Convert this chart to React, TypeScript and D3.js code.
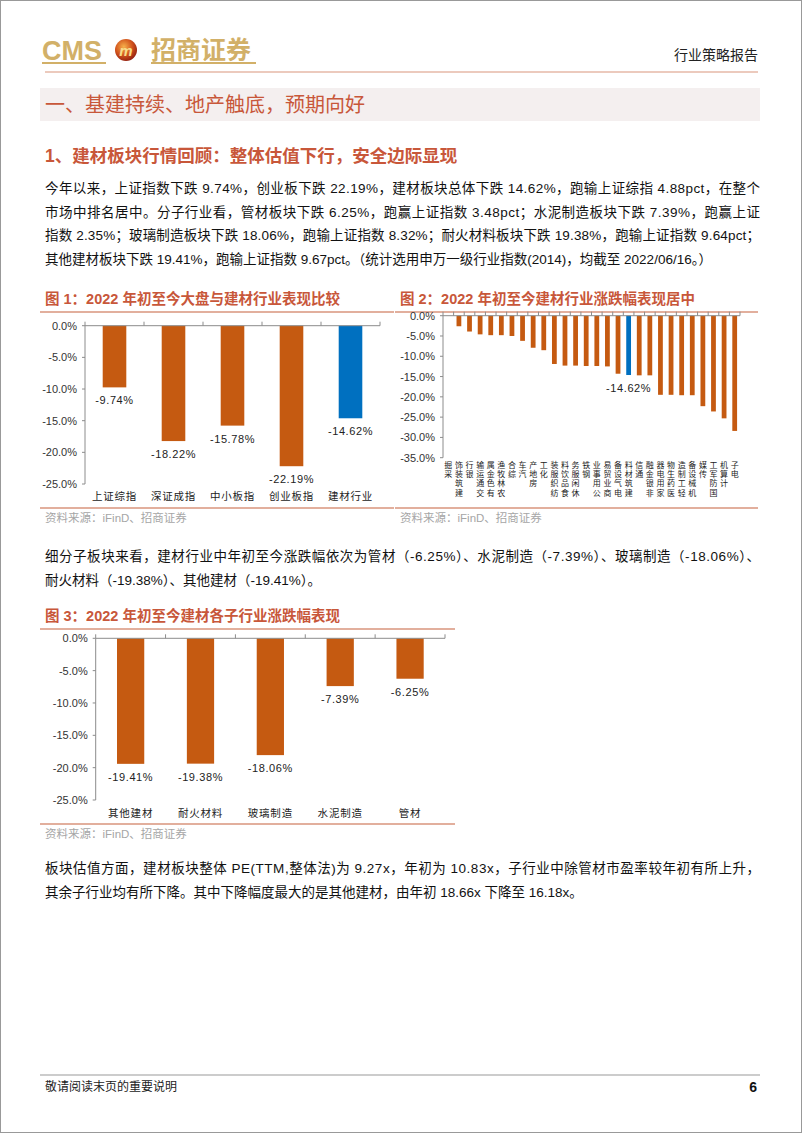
import * as d3 from 'd3';

// 图1 数据
const fig1Cats = ['上证综指', '深证成指', '中小板指', '创业板指', '建材行业'];
const fig1Vals = [-9.74, -18.22, -15.78, -22.19, -14.62];
const fig1Ticks = [0, -5, -10, -15, -20, -25];

// 图2 数据（申万一级行业）
const fig2Cats = [
  '采掘', '建筑装饰', '银行', '交通运输', '有色金属', '农林牧渔', '综合', '汽车', '房地产', '化工',
  '纺织服装', '食品饮料', '休闲服务', '钢铁', '公用事业', '商业贸易', '电气设备', '建筑材料', '通信',
  '非银金融', '家用电器', '医药生物', '轻工制造', '机械设备', '传媒', '国防军工', '计算机', '电子',
];
const fig2Vals = [
  40.5, -2.6, -3.9, -4.6, -4.8, -4.8, -5.0, -6.2, -7.9, -8.5,
  -11.9, -12.3, -12.3, -12.4, -12.4, -12.5, -14.3, -14.62, -14.7,
  -14.7, -19.5, -19.5, -19.6, -19.6, -22.3, -23.6, -25.3, -28.4,
];
const fig2Ticks = [0, -5, -10, -15, -20, -25, -30, -35];

// 图3 数据
const fig3Cats = ['其他建材', '耐火材料', '玻璃制造', '水泥制造', '管材'];
const fig3Vals = [-19.41, -19.38, -18.06, -7.39, -6.25];
const fig3Ticks = [0, -5, -10, -15, -20, -25];

const highlight = ['建材行业', '建筑材料'];

// 正文
const para1 = [
  '今年以来，上证指数下跌 9.74%，创业板下跌 22.19%，建材板块总体下跌 14.62%，跑输上证综指 4.88pct，在整个',
  '市场中排名居中。分子行业看，管材板块下跌 6.25%，跑赢上证指数 3.48pct；水泥制造板块下跌 7.39%，跑赢上证',
  '指数 2.35%；玻璃制造板块下跌 18.06%，跑输上证指数 8.32%；耐火材料板块下跌 19.38%，跑输上证指数 9.64pct；',
  '其他建材板块下跌 19.41%，跑输上证指数 9.67pct。（统计选用申万一级行业指数(2014)，均截至 2022/06/16。）',
];
const para2 = [
  '细分子板块来看，建材行业中年初至今涨跌幅依次为管材（-6.25%）、水泥制造（-7.39%）、玻璃制造（-18.06%）、',
  '耐火材料（-19.38%）、其他建材（-19.41%）。',
];
const para3 = [
  '板块估值方面，建材板块整体 PE(TTM,整体法)为 9.27x，年初为 10.83x，子行业中除管材市盈率较年初有所上升，',
  '其余子行业均有所下降。其中下降幅度最大的是其他建材，由年初 18.66x 下降至 16.18x。',
];

const FONT = '"Liberation Sans", Arial, "Noto Sans CJK SC", sans-serif';
const CJK = '"Noto Sans CJK SC", "Liberation Sans", sans-serif';
const ORANGE = '#c55a11';
const BLUE = '#0070c0';
const RED = '#c8573a';
const LINE = '#d9957c';
const GRAY = '#a6a6a6';

const fmt = (v: number) => `${v.toFixed(1)}%`;

interface BarProps {
  cats: string[];
  vals: number[];
  ticks: number[];
  left: number;
  right: number;
  top: number;
  bottom: number;
  barFrac: number;
  labelsAll: boolean;
  vertical?: boolean;
  catY: number;
}

const Bars = ({ cats, vals, ticks, left, right, top, bottom, barFrac, labelsAll, vertical, catY }: BarProps) => {
  const y = d3.scaleLinear().domain([d3.min(ticks)!, 0]).range([bottom, top]).clamp(true);
  const x = d3.scaleBand<string>().domain(cats).range([left, right]).padding(0);
  const bw = x.bandwidth() * barFrac;
  const edges = cats.map((c) => x(c)!).concat([right]);
  return (
    <g>
      {/* y 轴 */}
      <line x1={left} x2={left} y1={top} y2={bottom} stroke="#8c8c8c" strokeWidth={1} />
      {ticks.map((t) => (
        <g key={t}>
          <line x1={left - 3} x2={left} y1={y(t)} y2={y(t)} stroke="#8c8c8c" />
          <text x={left - 8} y={y(t) + 4} textAnchor="end" fontSize={11} fontFamily={FONT} fill="#333">
            {fmt(t)}
          </text>
        </g>
      ))}
      {/* 柱 */}
      {cats.map((c, i) => {
        const v = vals[i];
        const y0 = y(0);
        const y1 = y(v);
        const hl = highlight.includes(c);
        return (
          <g key={c}>
            <rect x={x(c)! + (x.bandwidth() - bw) / 2} y={Math.min(y0, y1)} width={bw} height={Math.abs(y1 - y0)} fill={hl ? BLUE : ORANGE} />
            {(labelsAll || hl) && (
              <text x={x(c)! + x.bandwidth() / 2} y={y1 + 17} textAnchor="middle" fontSize={11} fontFamily={FONT} fill="#222" letterSpacing={0.6}>
                {`${v.toFixed(2)}%`}
              </text>
            )}
          </g>
        );
      })}
      {/* x 轴 (0 线) */}
      <line x1={left} x2={right} y1={y(0)} y2={y(0)} stroke="#8c8c8c" strokeWidth={1} />
      {edges.map((e, i) => (
        <line key={i} x1={e} x2={e} y1={y(0)} y2={y(0) - 4} stroke="#8c8c8c" />
      ))}
      {/* 类别 */}
      {cats.map((c) =>
        vertical ? (
          <g key={c}>
            {c.split('').reverse().map((ch, r) => (
              <text key={r} x={x(c)! + x.bandwidth() / 2} y={catY + r * 9.2} textAnchor="middle" fontSize={8} fontFamily={CJK} fill="#222">
                {ch}
              </text>
            ))}
          </g>
        ) : (
          <text key={c} x={x(c)! + x.bandwidth() / 2} y={catY} textAnchor="middle" fontSize={10.5} fontFamily={CJK} fill="#222" letterSpacing={0.8}>
            {c}
          </text>
        ),
      )}
    </g>
  );
};

const Para = ({ lines, y0, full }: { lines: string[]; y0: number; full: number }) => (
  <g>
    {lines.map((l, i) => (
      <text
        key={i}
        x={45}
        y={y0 + i * 23.5}
        fontSize={13.5}
        fontFamily={FONT}
        fill="#111"
        {...(i < full ? { textLength: 715, lengthAdjust: 'spacing' } : {})}
      >
        {l}
      </text>
    ))}
  </g>
);

const Title = ({ x, y, x2, text }: { x: number; y: number; x2: number; text: string }) => (
  <g>
    <text x={x} y={y} fontSize={14.5} fontWeight="bold" fontFamily={FONT} fill={RED}>
      {text}
    </text>
    <line x1={x - 5} x2={x2} y1={y + 8} y2={y + 8} stroke={LINE} strokeWidth={1.5} />
  </g>
);

const Source = ({ x, y, x2 }: { x: number; y: number; x2: number }) => (
  <g>
    <line x1={x - 5} x2={x2} y1={y - 14} y2={y - 14} stroke={LINE} strokeWidth={1.5} />
    <text x={x} y={y} fontSize={11.5} fontFamily={FONT} fill={GRAY}>
      资料来源：iFinD、招商证券
    </text>
  </g>
);

export default function App() {
  return (
    <svg width={802} height={1133} style={{ position: 'absolute', left: 0, top: 0, display: 'block' }}>
      <rect x={0} y={0} width={802} height={1133} fill="#fff" />
      <rect x={0.5} y={0.5} width={801} height={1132} fill="none" stroke="#999" />
      <defs>
        <radialGradient id="logo" cx="40%" cy="35%" r="70%">
          <stop offset="0%" stopColor="#f6b04a" />
          <stop offset="55%" stopColor="#d2541c" />
          <stop offset="100%" stopColor="#8e1c10" />
        </radialGradient>
      </defs>

      {/* 页眉 */}
      <text x={42} y={60} fontSize={27} fontFamily={FONT} fill="#d2b068" fontWeight="bold">CMS</text>
      <line x1={42} x2={106} y1={63} y2={63} stroke="#d2b068" strokeWidth={2} />
      <circle cx={126} cy={50} r={11} fill="url(#logo)" />
      <text x={126} y={56} textAnchor="middle" fontSize={15} fontStyle="italic" fontWeight="bold" fontFamily={FONT} fill="#f7dd8a">m</text>
      <text x={151} y={59} fontSize={25} fontFamily={CJK} fill="#d2b068" fontWeight="bold">招商证券</text>
      <line x1={151} x2={256} y1={63} y2={63} stroke="#d2b068" strokeWidth={2} />
      <text x={758} y={60} textAnchor="end" fontSize={14} fontFamily={CJK} fill="#222">行业策略报告</text>
      <line x1={45} x2={758} y1={72} y2={72} stroke={LINE} strokeWidth={1.2} />

      {/* 章节标题 */}
      <rect x={40} y={88} width={720} height={33} fill="#f4efef" />
      <text x={45} y={112} fontSize={20} fontFamily={CJK} fill={RED}>一、基建持续、地产触底，预期向好</text>
      <text x={45} y={162} fontSize={17.5} fontFamily={FONT} fill={RED} fontWeight="bold">1、建材板块行情回顾：整体估值下行，安全边际显现</text>

      <Para lines={para1} y0={193} full={3} />

      {/* 图1 */}
      <Title x={45} y={304} x2={394} text="图 1：2022 年初至今大盘与建材行业表现比较" />
      <Bars cats={fig1Cats} vals={fig1Vals} ticks={fig1Ticks} left={85} right={380} top={325.7} bottom={484} barFrac={0.4} labelsAll catY={500} />
      <Source x={45} y={522} x2={394} />

      {/* 图2 */}
      <Title x={400} y={304} x2={758} text="图 2：2022 年初至今建材行业涨跌幅表现居中" />
      <Bars cats={fig2Cats} vals={fig2Vals} ticks={fig2Ticks} left={443} right={740} top={315.7} bottom={457.7} barFrac={0.45} labelsAll={false} vertical catY={468} />
      <Source x={400} y={522} x2={758} />

      <Para lines={para2} y0={561} full={1} />

      {/* 图3 */}
      <Title x={45} y={621} x2={455} text="图 3：2022 年初至今建材各子行业涨跌幅表现" />
      <Bars cats={fig3Cats} vals={fig3Vals} ticks={fig3Ticks} left={95.7} right={445} top={638.3} bottom={800} barFrac={0.39} labelsAll catY={817} />
      <Source x={45} y={838} x2={455} />

      <Para lines={para3} y0={873} full={1} />

      {/* 页脚 */}
      <line x1={40} x2={760} y1={1075} y2={1075} stroke="#999" strokeWidth={1} />
      <text x={45} y={1091} fontSize={12} fontFamily={CJK} fill="#222">敬请阅读末页的重要说明</text>
      <text x={757} y={1092} textAnchor="end" fontSize={14} fontWeight="bold" fontFamily={FONT} fill="#111">6</text>
    </svg>
  );
}
